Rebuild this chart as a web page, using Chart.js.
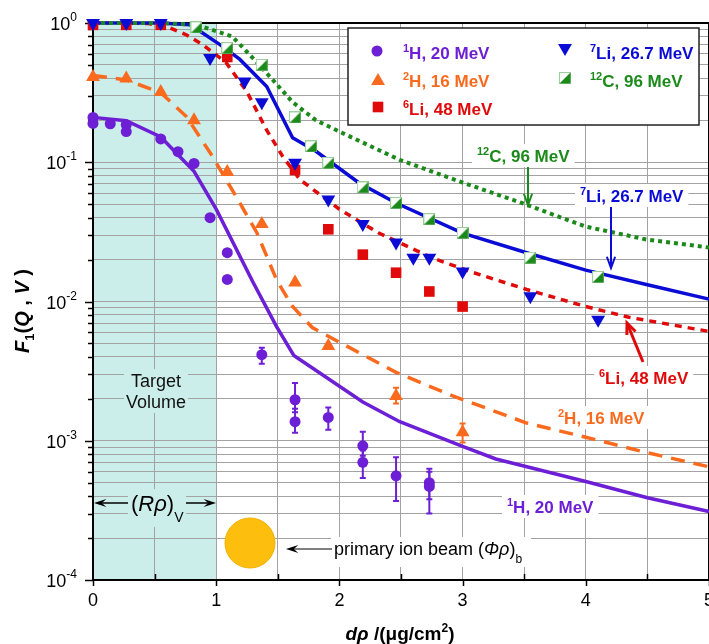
<!DOCTYPE html>
<html lang="en">
<head>
<meta charset="UTF-8" />
<title>F1(Q,V) vs d&rho;</title>
<style>
  html, body { margin: 0; padding: 0; background: #fff; overflow: hidden; }
  #wrap { width: 724px; height: 644px; }
</style>
</head>
<body>
<div id="wrap"><canvas id="chart" width="724" height="644"></canvas></div>
<script src="https://cdn.jsdelivr.net/npm/chart.js"></script>
<script>
// ---- data ----
const h1X = [0, 0, 0.14, 0.27, 0.27, 0.55, 0.69, 0.82, 0.95, 1.09, 1.09, 1.37, 1.64, 1.64, 1.91, 2.19, 2.19, 2.46, 2.73, 2.73];
const h1Y = [0.21, 0.19, 0.189, 0.186, 0.166, 0.147, 0.119, 0.098, 0.040, 0.0224, 0.0144, 0.00415, 0.00197, 0.00137, 0.00147, 0.00092, 0.00070, 0.00056, 0.00050, 0.00047];
const h1Lo = [null, null, null, null, null, null, null, null, null, null, null, 0.00357, 0.0016, 0.00114, 0.0012, 0.00078, 0.00054, 0.00037, 0.00038, 0.0003];
const h1Hi = [null, null, null, null, null, null, null, null, null, null, null, 0.00466, 0.0026, 0.0017, 0.00173, 0.00116, 0.00085, 0.00076, 0.00063, 0.0006];

const h2X = [0, 0.27, 0.55, 0.82, 1.09, 1.37, 1.64, 1.91, 2.46, 3.0];
const h2Y = [0.41, 0.40, 0.32, 0.20, 0.085, 0.036, 0.0137, 0.0048, 0.0021, 0.00115];
const h2Lo = [null, null, null, null, null, null, null, null, 0.00185, 0.00097];
const h2Hi = [null, null, null, null, null, null, null, null, 0.0024, 0.00133];

const li6X = [0, 0.27, 0.55, 1.09, 1.64, 1.91, 2.19, 2.46, 2.73, 3.0];
const li6Y = [0.97, 0.97, 0.97, 0.57, 0.088, 0.033, 0.0217, 0.0161, 0.0118, 0.0092];

const li7X = [0, 0.27, 0.55, 0.95, 1.23, 1.37, 1.64, 1.91, 2.19, 2.46, 2.60, 2.73, 3.0, 3.55, 4.1];
const li7Y = [1.0, 1.0, 1.0, 0.56, 0.38, 0.27, 0.099, 0.054, 0.036, 0.0265, 0.0206, 0.0206, 0.0164, 0.0109, 0.0074];

const c12X = [0.84, 1.09, 1.37, 1.64, 1.77, 1.91, 2.19, 2.46, 2.73, 3.0, 3.55, 4.1];
const c12Y = [0.93, 0.66, 0.50, 0.21, 0.13, 0.099, 0.066, 0.051, 0.039, 0.031, 0.0206, 0.015];

// calculated curves
const h1LineX = [0, 0.27, 0.55, 0.82, 1.0, 1.3, 1.49, 1.63, 2.19, 2.49, 3.0, 3.27, 4.0, 4.5, 5.0];
const h1LineY = [0.21, 0.199, 0.152, 0.086, 0.046, 0.0137, 0.0066, 0.0041, 0.0019, 0.00137, 0.00091, 0.00074, 0.00051, 0.00039, 0.00031];
const h2LineX = [0, 0.27, 0.55, 0.76, 0.97, 1.19, 1.33, 1.49, 1.62, 1.78, 2.0, 2.46, 2.92, 3.52, 4.0, 4.5, 5.0];
const h2LineY = [0.42, 0.39, 0.316, 0.212, 0.110, 0.0513, 0.0312, 0.0143, 0.0092, 0.0065, 0.0051, 0.0031, 0.0021, 0.00134, 0.00106, 0.00082, 0.00065];
const li6LineX = [0, 0.27, 0.45, 0.6, 0.76, 0.89, 1.08, 1.25, 1.41, 1.54, 1.68, 2.0, 2.32, 2.75, 3.08, 3.52, 4.0, 4.35, 5.0];
const li6LineY = [1.0, 1.0, 0.99, 0.94, 0.82, 0.70, 0.52, 0.32, 0.17, 0.11, 0.075, 0.046, 0.031, 0.0206, 0.0162, 0.0122, 0.0092, 0.0077, 0.0061];
const li7LineX = [0, 0.55, 0.79, 1.03, 1.19, 1.41, 1.62, 1.81, 2.16, 2.46, 3.0, 3.52, 4.0, 4.5, 5.0];
const li7LineY = [1.0, 1.0, 0.97, 0.70, 0.55, 0.35, 0.15, 0.12, 0.071, 0.051, 0.031, 0.0224, 0.0168, 0.0132, 0.0104];
const c12LineX = [0, 0.55, 0.84, 1.13, 1.29, 1.46, 1.62, 1.81, 2.0, 2.49, 2.99, 3.48, 4.0, 4.49, 5.0];
const c12LineY = [1.0, 1.0, 0.97, 0.80, 0.57, 0.39, 0.27, 0.20, 0.166, 0.104, 0.072, 0.051, 0.0345, 0.0279, 0.0244];

const yDecades = [-4, -3, -2, -1, 0];
const xTickLabels = ['0', '1', '2', '3', '4', '5'];
const targetRange = [0, 1];

// ---- styles ----
const PURPLE = '#6C1FD4', ORANGE = '#FA6A1E', RED = '#E00A0A', BLUE = '#0B0BD6', GREEN = '#1B8A1B';
const SHADE = '#CCEEEA';
const FAM = '"Liberation Sans", Arial, Helvetica, sans-serif';
Chart.defaults.font.family = FAM;

// half white / half green square marker
const c12Mark = document.createElement('canvas');
c12Mark.width = c12Mark.height = 12;
(function () {
  const c = c12Mark.getContext('2d');
  c.fillStyle = '#fff'; c.fillRect(0, 0, 12, 12);
  c.strokeStyle = '#9ccf9c'; c.lineWidth = 1; c.strokeRect(0.5, 0.5, 11, 11);
  c.fillStyle = GREEN;
  c.beginPath(); c.moveTo(11.5, 0.5); c.lineTo(11.5, 11.5); c.lineTo(0.5, 11.5); c.closePath(); c.fill();
})();

const pts = (xs, ys) => xs.map((x, i) => ({ x, y: ys[i] }));

function markers(xs, ys, color, style, radius, extra) {
  return Object.assign({
    data: pts(xs, ys), showLine: false, pointStyle: style, pointRadius: radius,
    pointBackgroundColor: color, pointBorderColor: color, pointBorderWidth: 0,
    borderColor: color, clip: false
  }, extra || {});
}
function curve(xs, ys, color, width, dash) {
  return {
    data: pts(xs, ys), showLine: true, pointRadius: 0, borderColor: color,
    borderWidth: width, borderDash: dash, borderCapStyle: 'butt', tension: 0, clip: false
  };
}

// ---- drawing helpers ----
function rich(ctx, x, y, parts, align) {
  let w = 0;
  parts.forEach(p => { ctx.font = p[1]; w += ctx.measureText(p[0]).width; });
  let cx = align === 'center' ? x - w / 2 : (align === 'right' ? x - w : x);
  ctx.textAlign = 'left';
  ctx.textBaseline = 'alphabetic';
  parts.forEach(p => {
    ctx.font = p[1];
    ctx.fillText(p[0], cx, y + (p[2] || 0));
    cx += ctx.measureText(p[0]).width;
  });
  return w;
}
function measure(ctx, parts) {
  let w = 0;
  parts.forEach(p => { ctx.font = p[1]; w += ctx.measureText(p[0]).width; });
  return w;
}
function arrowV(ctx, x1, y1, x2, y2, color, lw, head, spread) {
  const ang = Math.atan2(y2 - y1, x2 - x1);
  ctx.strokeStyle = color; ctx.lineWidth = lw; ctx.lineCap = 'butt';
  ctx.beginPath(); ctx.moveTo(x1, y1); ctx.lineTo(x2, y2); ctx.stroke();
  ctx.beginPath();
  ctx.moveTo(x2 - head * Math.cos(ang - spread), y2 - head * Math.sin(ang - spread));
  ctx.lineTo(x2, y2);
  ctx.lineTo(x2 - head * Math.cos(ang + spread), y2 - head * Math.sin(ang + spread));
  ctx.stroke();
}
function arrowFilled(ctx, x1, y1, x2, y2, color, lw, head) {
  const ang = Math.atan2(y2 - y1, x2 - x1);
  ctx.strokeStyle = color; ctx.fillStyle = color; ctx.lineWidth = lw;
  ctx.beginPath(); ctx.moveTo(x1, y1);
  ctx.lineTo(x2 - head * 0.6 * Math.cos(ang), y2 - head * 0.6 * Math.sin(ang)); ctx.stroke();
  ctx.beginPath();
  ctx.moveTo(x2, y2);
  ctx.lineTo(x2 - head * Math.cos(ang - 0.32), y2 - head * Math.sin(ang - 0.32));
  ctx.lineTo(x2 - head * 0.6 * Math.cos(ang), y2 - head * 0.6 * Math.sin(ang));
  ctx.lineTo(x2 - head * Math.cos(ang + 0.32), y2 - head * Math.sin(ang + 0.32));
  ctx.closePath(); ctx.fill();
}

const B = 'bold 17px ' + FAM, BS = 'bold 11px ' + FAM;
const lab = (sup, txt) => [[sup, BS, -7], [txt, B]];

// annotation labels: [parts, color, left x, baseline]
const notes = [
  [lab('12', 'C, 96 MeV'), GREEN, 477, 162],
  [lab('7', 'Li, 26.7 MeV'), BLUE, 580, 202],
  [lab('6', 'Li, 48 MeV'), RED, 599, 384],
  [lab('2', 'H, 16 MeV'), ORANGE, 558, 424],
  [lab('1', 'H, 20 MeV'), PURPLE, 507, 513]
];

const decor = {
  id: 'decor',
  beforeDraw(chart) {
    const { ctx, chartArea: a, scales: { x } } = chart;
    ctx.save();
    ctx.fillStyle = '#fff';
    ctx.fillRect(0, 0, chart.width, chart.height);
    const x0 = x.getPixelForValue(targetRange[0]), x1 = x.getPixelForValue(targetRange[1]);
    ctx.fillStyle = SHADE;
    ctx.fillRect(x0, a.top, x1 - x0, a.bottom - a.top);
    ctx.restore();
  },
  beforeDatasetsDraw(chart) {
    const { ctx, chartArea: a, scales: { x, y } } = chart;
    ctx.save();
    // label backgrounds (hide grid)
    ctx.fillStyle = '#fff';
    notes.forEach(n => {
      const w = measure(ctx, n[0]);
      ctx.fillRect(n[2] - 5, n[3] - 18, w + 10, 23);
    });
    ctx.fillRect(331, 537, 200, 30);
    ctx.fillStyle = SHADE;
    ctx.fillRect(124, 369, 64, 44);
    ctx.fillRect(128, 489, 58, 38);

    // frame
    ctx.strokeStyle = '#000'; ctx.lineWidth = 2;
    ctx.strokeRect(a.left, a.top, a.right - a.left, a.bottom - a.top);

    // y ticks + labels
    ctx.lineWidth = 1.5;
    ctx.fillStyle = '#000';
    yDecades.forEach(e => {
      for (let m = 1; m <= 9; m++) {
        if (e === 0 && m > 1) break;
        const py = Math.round(y.getPixelForValue(m * Math.pow(10, e))) + 0.5;
        const len = m === 1 ? 8 : 5;
        ctx.beginPath(); ctx.moveTo(a.left - len, py); ctx.lineTo(a.left, py); ctx.stroke();
      }
      const py = y.getPixelForValue(Math.pow(10, e));
      rich(ctx, 77, py + 7, [['10', '18px ' + FAM], [e === 0 ? '0' : '-' + (-e), '12px ' + FAM, -9]], 'right');
    });
    // x ticks
    for (let v = 0; v <= 5; v += 0.5) {
      const px = Math.round(x.getPixelForValue(v)) + 0.5;
      ctx.beginPath();
      if (Number.isInteger(v)) { ctx.moveTo(px, a.bottom); ctx.lineTo(px, a.bottom + 6); }
      else { ctx.moveTo(px, a.bottom); ctx.lineTo(px, a.bottom - 6); }
      ctx.stroke();
    }

    // error bars
    chart.data.datasets.forEach((ds, i) => {
      if (!ds.errLo) return;
      const meta = chart.getDatasetMeta(i);
      ctx.strokeStyle = ds.borderColor; ctx.lineWidth = 2;
      ds.errLo.forEach((lo, j) => {
        if (lo == null) return;
        const px = meta.data[j].x;
        const yl = y.getPixelForValue(lo), yh = y.getPixelForValue(ds.errHi[j]);
        ctx.beginPath();
        ctx.moveTo(px, yl); ctx.lineTo(px, yh);
        ctx.moveTo(px - 3, yl); ctx.lineTo(px + 3, yl);
        ctx.moveTo(px - 3, yh); ctx.lineTo(px + 3, yh);
        ctx.stroke();
      });
    });
    ctx.restore();
  },
  afterDatasetsDraw(chart) {
    const { ctx } = chart;
    const H = Chart.helpers;
    ctx.save();

    // legend
    ctx.fillStyle = '#fff';
    ctx.fillRect(348, 28, 351, 97);
    ctx.strokeStyle = '#222'; ctx.lineWidth = 1.5;
    ctx.strokeRect(348, 28, 351, 97);
    const legend = [
      [PURPLE, 'circle', 5.5, 0, 377, 51, lab('1', 'H, 20 MeV'), 403, 59],
      [ORANGE, 'triangle', 8, 0, 378, 81, lab('2', 'H, 16 MeV'), 403, 87],
      [RED, 'rect', 7.5, 0, 378, 107, lab('6', 'Li, 48 MeV'), 403, 115],
      [BLUE, 'triangle', 8, 180, 565, 48, lab('7', 'Li, 26.7 MeV'), 590, 59],
      [GREEN, c12Mark, 6, 0, 565, 78, lab('12', 'C, 96 MeV'), 590, 87]
    ];
    legend.forEach(l => {
      ctx.fillStyle = l[0]; ctx.strokeStyle = l[0];
      H.drawPoint(ctx, { pointStyle: l[1], radius: l[2], rotation: l[3], borderWidth: 0 }, l[4], l[5]);
      ctx.fillStyle = l[0];
      rich(ctx, l[7], l[8], l[6], 'left');
    });

    // curve labels + arrows
    notes.forEach(n => { ctx.fillStyle = n[1]; rich(ctx, n[2], n[3], n[0], 'left'); });
    arrowV(ctx, 528, 167, 528, 205, GREEN, 2, 12, 0.35);
    arrowV(ctx, 611, 207, 611, 268, BLUE, 2, 12, 0.35);
    arrowV(ctx, 643, 362, 627, 323, RED, 3, 12, 0.4);

    // target volume
    ctx.fillStyle = '#111';
    rich(ctx, 156, 387, [['Target', '18px ' + FAM]], 'center');
    rich(ctx, 156, 408, [['Volume', '18px ' + FAM]], 'center');
    arrowFilled(ctx, 128, 503, 94, 503, '#000', 1.5, 13);
    arrowFilled(ctx, 186, 503, 216, 503, '#000', 1.5, 13);
    ctx.fillStyle = '#000';
    rich(ctx, 131, 511, [['(', '22px ' + FAM], ['R', 'italic 22px ' + FAM], ['\u03C1', 'italic 22px ' + FAM],
      [')', '22px ' + FAM], ['V', '14px ' + FAM, 11]], 'left');

    // primary beam
    ctx.fillStyle = '#FDBE0E';
    ctx.strokeStyle = '#F2B000'; ctx.lineWidth = 1;
    ctx.beginPath(); ctx.arc(250, 543, 25, 0, Math.PI * 2); ctx.fill(); ctx.stroke();
    arrowFilled(ctx, 332, 549, 286, 549, '#000', 1.2, 13);
    ctx.fillStyle = '#000';
    rich(ctx, 334, 555, [['primary ion beam (', '18px ' + FAM], ['\u03A6', 'italic 18px ' + FAM],
      ['\u03C1', 'italic 18px ' + FAM], [')', '18px ' + FAM], ['b', '12px ' + FAM, 8]], 'left');

    // axis titles
    rich(ctx, 400, 640, [['d', 'bold italic 19px ' + FAM], ['\u03C1', 'bold italic 19px ' + FAM],
      [' /(\u03BCg/cm', 'bold 19px ' + FAM], ['2', 'bold 12px ' + FAM, -8], [')', 'bold 19px ' + FAM]], 'center');
    ctx.translate(29, 311);
    ctx.rotate(-Math.PI / 2);
    rich(ctx, 0, 0, [['F', 'bold italic 20px ' + FAM], ['1', 'bold 13px ' + FAM, 5], ['(', 'bold 20px ' + FAM],
      ['Q', 'bold italic 20px ' + FAM], [' , ', 'bold 20px ' + FAM], ['V', 'bold italic 20px ' + FAM],
      [' )', 'bold 20px ' + FAM]], 'center');
    ctx.restore();
  }
};

new Chart(document.getElementById('chart'), {
  type: 'scatter',
  data: {
    datasets: [
      markers(li7X, li7Y, BLUE, 'triangle', 8, { pointRotation: 180 }),
      markers(c12X, c12Y, GREEN, c12Mark, 6),
      markers(li6X, li6Y, RED, 'rect', 7.5),
      markers(h2X, h2Y, ORANGE, 'triangle', 8, { errLo: h2Lo, errHi: h2Hi }),
      markers(h1X, h1Y, PURPLE, 'circle', 5.5, { errLo: h1Lo, errHi: h1Hi }),
      curve(c12LineX, c12LineY, GREEN, 4, [4, 4]),
      curve(li7LineX, li7LineY, BLUE, 3.5, []),
      curve(li6LineX, li6LineY, RED, 3.5, [7, 6]),
      curve(h2LineX, h2LineY, ORANGE, 3.5, [14, 9]),
      curve(h1LineX, h1LineY, PURPLE, 3.5, [])
    ]
  },
  options: {
    responsive: false,
    animation: false,
    layout: { padding: { top: 23, right: 0, bottom: 0, left: 0 } },
    plugins: { legend: { display: false }, tooltip: { enabled: false } },
    scales: {
      x: {
        type: 'linear', min: 0, max: 5,
        afterBuildTicks: s => { s.ticks = [0, 0.5, 1, 1.5, 2, 2.5, 3, 3.5, 4, 4.5, 5].map(v => ({ value: v })); },
        afterFit: s => { s.height = 64; },
        ticks: {
          autoSkip: false, maxRotation: 0, padding: 10, color: '#000',
          font: { size: 18 },
          callback: v => Number.isInteger(v) ? xTickLabels[v] : ''
        },
        grid: { color: '#a3a3a3', lineWidth: 1, drawTicks: false },
        border: { display: false }
      },
      y: {
        type: 'logarithmic', min: 1e-4, max: 1,
        afterBuildTicks: s => {
          const t = [];
          yDecades.forEach(e => { for (let m = 1; m <= 9; m++) { if (e === 0 && m > 1) break; t.push({ value: m * Math.pow(10, e) }); } });
          s.ticks = t;
        },
        afterFit: s => { s.width = 93; },
        ticks: { autoSkip: false, callback: () => '' },
        grid: { color: '#a3a3a3', lineWidth: 1, drawTicks: false },
        border: { display: false }
      }
    }
  },
  plugins: [decor]
});
</script>
</body>
</html>
